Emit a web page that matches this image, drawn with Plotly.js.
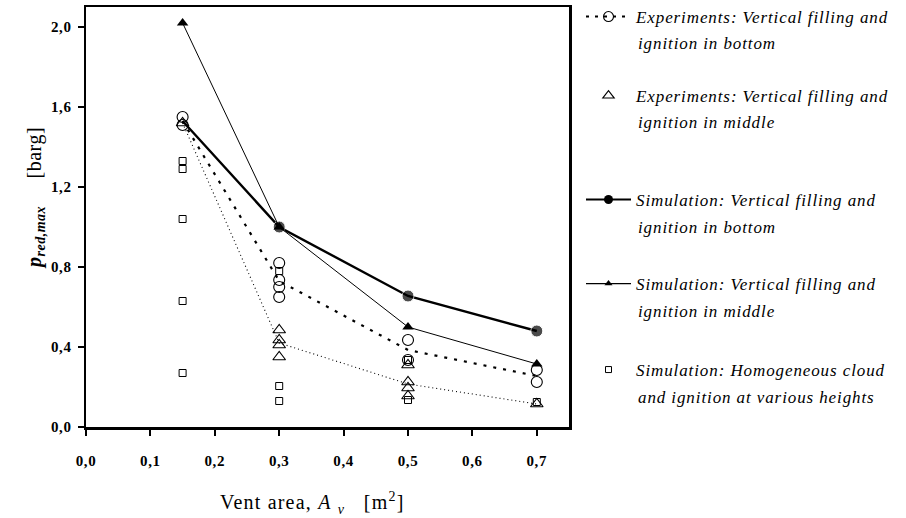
<!DOCTYPE html>
<html>
<head>
<meta charset="utf-8">
<script src="https://cdn.plot.ly/plotly-3.0.1.min.js"></script>
<style>html,body{margin:0;padding:0;background:#fff;}#chart{width:906px;height:518px;}</style>
</head>
<body>
<div id="chart"></div>
<script>
// Vent area (m2) and p_red,max (barg) values
const expBottomX = [0.15, 0.15, 0.3, 0.3, 0.3, 0.3, 0.5, 0.5, 0.7, 0.7];
const expBottomY = [1.55, 1.51, 0.82, 0.735, 0.70, 0.65, 0.435, 0.335, 0.285, 0.225];
const expBottomMeanX = [0.15, 0.3, 0.5, 0.7];
const expBottomMeanY = [1.53, 0.73, 0.385, 0.255];

const expMiddleX = [0.15, 0.3, 0.3, 0.3, 0.3, 0.5, 0.5, 0.5, 0.5, 0.7];
const expMiddleY = [1.52, 0.485, 0.435, 0.41, 0.35, 0.31, 0.225, 0.195, 0.155, 0.115];
const expMiddleMeanX = [0.15, 0.3, 0.5, 0.7];
const expMiddleMeanY = [1.52, 0.42, 0.215, 0.115];

const simBottomX = [0.15, 0.3, 0.5, 0.7];
const simBottomY = [1.53, 1.00, 0.655, 0.48];

const simMiddleX = [0.15, 0.3, 0.5, 0.7];
const simMiddleY = [2.02, 1.00, 0.50, 0.315];

const homX = [0.15, 0.15, 0.15, 0.15, 0.15, 0.3, 0.3, 0.3, 0.5, 0.5, 0.7];
const homY = [1.33, 1.29, 1.04, 0.63, 0.27, 0.78, 0.205, 0.13, 0.335, 0.135, 0.125];

const xTickVals = [0, 0.1, 0.2, 0.3, 0.4, 0.5, 0.6, 0.7];
const xTickText = ['0,0', '0,1', '0,2', '0,3', '0,4', '0,5', '0,6', '0,7'];
const yTickVals = [0, 0.4, 0.8, 1.2, 1.6, 2.0];
const yTickText = ['0,0', '0,4', '0,8', '1,2', '1,6', '2,0'];

const legendLine1 = [
  'Experiments: Vertical filling and',
  'Experiments: Vertical filling and',
  'Simulation: Vertical filling and',
  'Simulation: Vertical filling and',
  'Simulation: Homogeneous cloud'
];
const legendLine2 = [
  'ignition in bottom',
  'ignition in middle',
  'ignition in bottom',
  'ignition in middle',
  'and ignition at various heights'
];

const FONT = 'Liberation Serif, Times New Roman, serif';
const L = 86, R = 337, T = 7, B = 91;
const W = 906 - L - R, H = 518 - T - B;
const px2x = p => (p - L) / W;
const py2y = p => (518 - B - p) / H;
const sp = (t, s) => '<span style="letter-spacing:' + s + 'px">' + t + '</span>';

// legend rows (pixel centres of first and second text line)
const rowY1 = [17, 96, 200, 284, 370];
const rowY2 = [43, 122, 227, 311, 397];
const legX = 581;
const textX = 636;

const traces = [
  // experiments bottom
  {x: expBottomMeanX, y: expBottomMeanY, mode: 'lines', line: {color: '#000', width: 2.2, dash: '3px,7px'}, showlegend: false, hoverinfo: 'skip'},
  {x: expBottomX, y: expBottomY, mode: 'markers', marker: {symbol: 'circle-open', size: 11, color: '#000', line: {width: 1.1}}, showlegend: false},
  {x: [null], y: [null], mode: 'lines+markers', name: sp(legendLine1[0], 0.9), legend: 'legend',
   line: {color: '#000', width: 2, dash: '3px,6px'}, marker: {symbol: 'circle-open', size: 10, color: '#000', line: {width: 1.1}}},
  // experiments middle
  {x: expMiddleMeanX, y: expMiddleMeanY, mode: 'lines', line: {color: '#000', width: 1.1, dash: '1px,3px'}, showlegend: false, hoverinfo: 'skip'},
  {x: expMiddleX, y: expMiddleY, mode: 'markers', marker: {symbol: 'triangle-up-open', size: 11, color: '#000', line: {width: 1.1}}, showlegend: false},
  {x: [null], y: [null], mode: 'markers', name: sp(legendLine1[1], 0.9), legend: 'legend2',
   marker: {symbol: 'triangle-up-open', size: 10, color: '#000', line: {width: 1.1}}},
  // simulation bottom
  {x: simBottomX, y: simBottomY, mode: 'lines+markers', line: {color: '#000', width: 2.4},
   marker: {symbol: 'circle', size: [0, 12, 12, 12], color: '#000'}, showlegend: false},
  {x: [null], y: [null], mode: 'lines+markers', name: sp(legendLine1[2], 0.9), legend: 'legend3',
   line: {color: '#000', width: 2}, marker: {symbol: 'circle', size: 9, color: '#000'}},
  // simulation middle
  {x: simMiddleX, y: simMiddleY, mode: 'lines+markers', line: {color: '#000', width: 1},
   marker: {symbol: 'triangle-up', size: 10, color: '#000'}, showlegend: false},
  {x: [null], y: [null], mode: 'lines+markers', name: sp(legendLine1[3], 0.9), legend: 'legend4',
   line: {color: '#000', width: 1.3}, marker: {symbol: 'triangle-up', size: 7, color: '#000'}},
  // homogeneous
  {x: homX, y: homY, mode: 'markers', marker: {symbol: 'square-open', size: 7, color: '#000', line: {width: 1}}, showlegend: false},
  {x: [null], y: [null], mode: 'markers', name: sp(legendLine1[4], 0.9), legend: 'legend5',
   marker: {symbol: 'square-open', size: 6, color: '#000', line: {width: 1}}}
];

function leg(i) {
  return {
    x: px2x(legX), y: py2y(rowY1[i]), xanchor: 'left', yanchor: 'middle',
    bgcolor: 'rgba(0,0,0,0)', borderwidth: 0, itemwidth: 45,
    font: {family: FONT, size: 17, color: '#000', style: 'italic'}
  };
}

const annotations = legendLine2.map((t, i) => ({
  xref: 'paper', yref: 'paper', x: px2x(textX), y: py2y(rowY2[i] + 0.5),
  xanchor: 'left', yanchor: 'middle', showarrow: false, text: sp(t, 0.9),
  font: {family: FONT, size: 17, color: '#000', style: 'italic'}
}));
annotations.push({
  xref: 'paper', yref: 'paper', x: px2x(35), y: py2y(198), textangle: -90,
  xanchor: 'center', yanchor: 'middle', showarrow: false,
  text: sp('<b><i>p</i></b><sub><b><i>red,max</i></b></sub>     [barg]', 0.5),
  font: {family: FONT, size: 20, color: '#000'}
});
annotations.push({
  xref: 'paper', yref: 'paper', x: px2x(312), y: py2y(503),
  xanchor: 'center', yanchor: 'middle', showarrow: false,
  text: sp('Vent area, <i>A</i> <sub><i>v</i></sub>   [m<sup>2</sup>]', 1.2),
  font: {family: FONT, size: 20, color: '#000'}
});

const layout = {
  width: 906, height: 518,
  margin: {l: L, r: R, t: T, b: B, autoexpand: false},
  paper_bgcolor: '#fff', plot_bgcolor: '#fff',
  font: {family: FONT, color: '#000'},
  xaxis: {
    range: [0, 0.75], tickvals: xTickVals, ticktext: xTickText.map(t => sp(t, 0.6)),
    ticks: 'outside', ticklen: 6, tickwidth: 2, tickcolor: '#000',
    showline: true, linewidth: 2.5, linecolor: '#000', mirror: true,
    showgrid: false, zeroline: false, ticklabelstandoff: 12, automargin: false,
    tickfont: {family: FONT, size: 15, weight: 'bold', color: '#000'}
  },
  xaxis2: {
    overlaying: 'x', matches: 'x', anchor: 'y', side: 'bottom',
    range: [0, 0.75], tick0: 0, dtick: 0.05, ticks: 'inside', ticklen: 4, tickwidth: 2, tickcolor: '#000',
    showticklabels: false, showline: false, showgrid: false, zeroline: false
  },
  yaxis: {
    range: [0, 2.1], tickvals: yTickVals, ticktext: yTickText.map(t => sp(t, 0.6)),
    ticks: 'outside', ticklen: 6, tickwidth: 2, tickcolor: '#000',
    showline: true, linewidth: 2.5, linecolor: '#000', mirror: true,
    showgrid: false, zeroline: false, ticklabelstandoff: 3, automargin: false,
    tickfont: {family: FONT, size: 15, weight: 'bold', color: '#000'}
  },
  yaxis2: {
    overlaying: 'y', matches: 'y', anchor: 'x', side: 'left',
    range: [0, 2.1], tick0: 0, dtick: 0.2, ticks: 'inside', ticklen: 5, tickwidth: 2, tickcolor: '#000',
    showticklabels: false, showline: false, showgrid: false, zeroline: false
  },
  legend: leg(0), legend2: leg(1), legend3: leg(2), legend4: leg(3), legend5: leg(4),
  annotations: annotations,
  showlegend: true
};

Plotly.newPlot('chart', traces, layout, {displayModeBar: false, staticPlot: true});
</script>
</body>
</html>
